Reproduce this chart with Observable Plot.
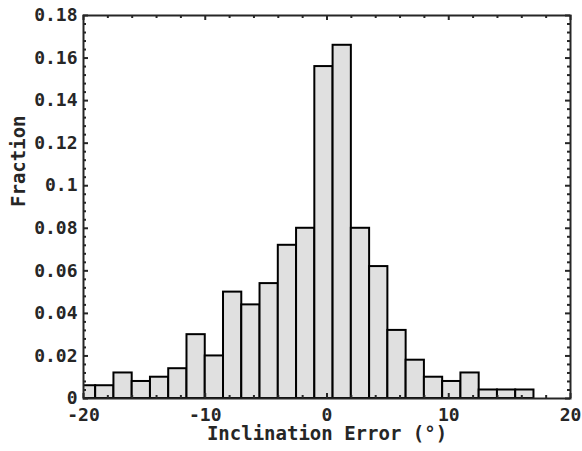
<!DOCTYPE html>
<html>
<head>
<meta charset="utf-8">
<script src="https://cdn.jsdelivr.net/npm/d3@7"></script>
<script src="https://cdn.jsdelivr.net/npm/@observablehq/plot@0.6"></script>
<style>
  html, body { margin: 0; padding: 0; background: #fff; }
</style>
</head>
<body>
<div id="chart"></div>
<script>
// Histogram bin edges (degrees) and fraction per bin
const binLo = [-20.5, -19, -17.5, -16, -14.5, -13, -11.5, -10, -8.5, -7, -5.5, -4, -2.5, -1, 0.5, 2, 3.5, 5, 6.5, 8, 9.5, 11, 12.5, 14, 15.5];
const binHi = [-19, -17.5, -16, -14.5, -13, -11.5, -10, -8.5, -7, -5.5, -4, -2.5, -1, 0.5, 2, 3.5, 5, 6.5, 8, 9.5, 11, 12.5, 14, 15.5, 17];
const fraction = [0.006, 0.006, 0.012, 0.008, 0.010, 0.014, 0.030, 0.020, 0.050, 0.044, 0.054, 0.072, 0.080, 0.156, 0.166, 0.080, 0.062, 0.032, 0.018, 0.010, 0.008, 0.012, 0.004, 0.004, 0.004];

// Ticks and labels
const xTicks = [-20, -10, 0, 10, 20];
const xTickLabels = ["-20", "-10", "0", "10", "20"];
const xMinorTicks = [-18, -16, -14, -12, -8, -6, -4, -2, 2, 4, 6, 8, 12, 14, 16, 18];
const yTicks = [0, 0.02, 0.04, 0.06, 0.08, 0.1, 0.12, 0.14, 0.16, 0.18];
const yTickLabels = ["0", "0.02", "0.04", "0.06", "0.08", "0.1", "0.12", "0.14", "0.16", "0.18"];
const yMinorTicks = [0.004, 0.008, 0.012, 0.016, 0.024, 0.028, 0.032, 0.036, 0.044, 0.048, 0.052, 0.056,
  0.064, 0.068, 0.072, 0.076, 0.084, 0.088, 0.092, 0.096, 0.104, 0.108, 0.112, 0.116,
  0.124, 0.128, 0.132, 0.136, 0.144, 0.148, 0.152, 0.156, 0.164, 0.168, 0.172, 0.176];

const xLabel = "Inclination Error (°)";
const yLabel = "Fraction";

const bins = binLo.map((lo, i) => ({lo, hi: binHi[i], f: fraction[i]}));

const W = 582, H = 451;
const mL = 83, mR = 12, mT = 15, mB = 53;
const fw = W - mL - mR, fh = H - mT - mB;
const major = 5, minor = 3;

const axisColor = "#262626";
const tickStyle = {stroke: axisColor, strokeWidth: 2};

const chart = Plot.plot({
  width: W,
  height: H,
  marginLeft: mL,
  marginRight: mR,
  marginTop: mT,
  marginBottom: mB,
  style: {fontFamily: "DejaVu Sans Mono", fontWeight: "bold", fontSize: "18px", color: axisColor, background: "#fff"},
  x: {domain: [-20, 20]},
  y: {domain: [0, 0.18]},
  marks: [
    Plot.rectY(bins, {x1: "lo", x2: "hi", y1: 0, y2: "f", fill: "#e0e0e0", stroke: "black", strokeWidth: 2, clip: true, inset: 0}),
    // inward ticks on all four sides
    Plot.ruleX(xTicks, {x: d => d, insetTop: fh - major, ...tickStyle}),
    Plot.ruleX(xTicks, {x: d => d, insetBottom: fh - major, ...tickStyle}),
    Plot.ruleX(xMinorTicks, {x: d => d, insetTop: fh - minor, ...tickStyle}),
    Plot.ruleX(xMinorTicks, {x: d => d, insetBottom: fh - minor, ...tickStyle}),
    Plot.ruleY(yTicks, {y: d => d, insetRight: fw - major, ...tickStyle}),
    Plot.ruleY(yTicks, {y: d => d, insetLeft: fw - major, ...tickStyle}),
    Plot.ruleY(yMinorTicks, {y: d => d, insetRight: fw - minor, ...tickStyle}),
    Plot.ruleY(yMinorTicks, {y: d => d, insetLeft: fw - minor, ...tickStyle}),
    // tick labels
    Plot.axisX(xTicks, {anchor: "bottom", tickSize: 0, tickPadding: 10, tickFormat: (d, i) => xTickLabels[i], fontSize: 18, fill: axisColor, label: null}),
    Plot.axisY(yTicks, {anchor: "left", tickSize: 0, tickPadding: 6, tickFormat: (d, i) => yTickLabels[i], fontSize: 18, fill: axisColor, label: null}),
    Plot.frame({stroke: axisColor, strokeWidth: 2}),
    // axis titles
    Plot.text([xLabel], {frameAnchor: "bottom", text: d => d, dy: 35, fontSize: 19, fill: axisColor, lineAnchor: "middle"}),
    Plot.text([yLabel], {frameAnchor: "left", text: d => d, rotate: -90, dx: -65, fontSize: 19, fill: axisColor, lineAnchor: "middle"})
  ]
});
document.getElementById("chart").appendChild(chart);
</script>
</body>
</html>
